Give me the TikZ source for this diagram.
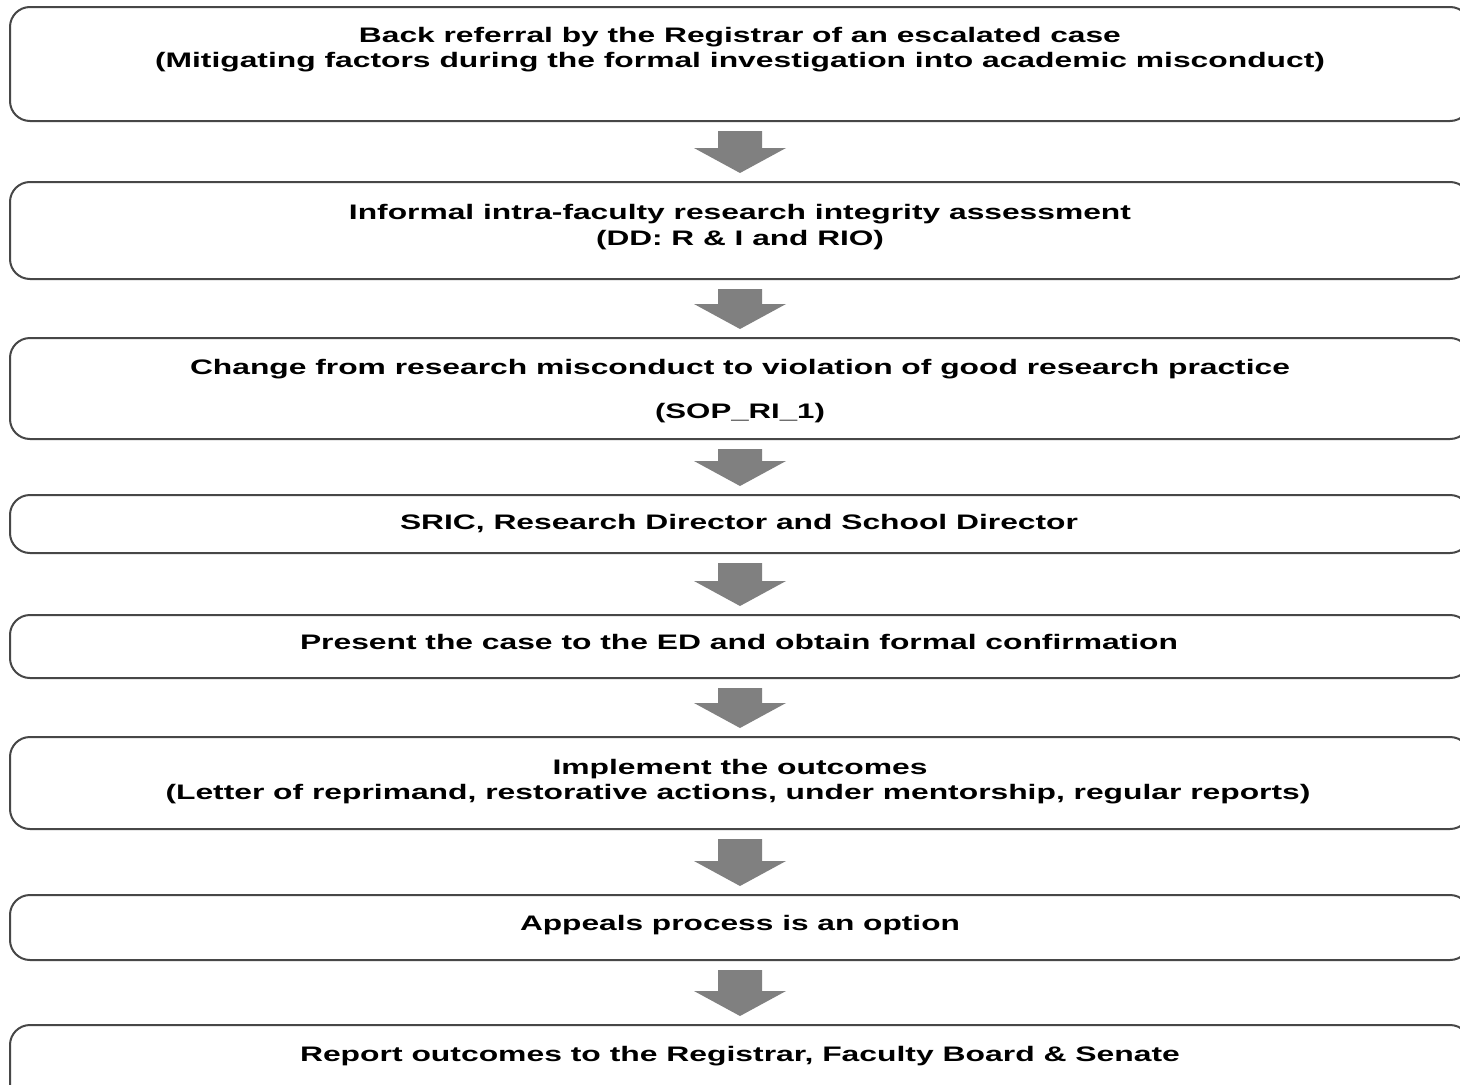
\documentclass[tikz,border=0pt]{standalone}
\usepackage{graphicx}
\usepackage{fontspec}
\setmainfont{Liberation Sans}
\usetikzlibrary{calc}

% set one line of text at a given width (in px units), stretching only horizontally
\newsavebox\linebox
\newcommand\fitline[2]{%
  \sbox\linebox{#2}%
  \pgfmathsetmacro\fitx{#1*0.75/\the\wd\linebox}%
  \scalebox{\fitx}[1]{\usebox\linebox}}

% block arrow from the bottom of one box to the top of the next
\newcommand\flowarrow[2]{%
  \fill[arrowfill] ($(#1.south)+(-22,9)$) -- ($(#1.south)+(22,9)$)
    -- ($(#2.north)+(22,-33)$) -- ($(#2.north)+(46,-33)$)
    -- ($(#2.north)+(0,-8)$)
    -- ($(#2.north)+(-46,-33)$) -- ($(#2.north)+(-22,-33)$) -- cycle;}

\begin{document}
\begin{tikzpicture}[x=0.75pt, y=-0.75pt,
  box/.style={draw=black!72, line width=1.5pt, rounded corners=15pt,
    minimum width=1095pt, inner sep=0pt, fill=white},
  txt/.style={anchor=base, inner sep=0pt, text=black,
    font=\bfseries\fontsize{15.75}{18}\selectfont},
  arrowfill/.style={fill=black!50}]

\fill[white] (0,0) rectangle (1460,1085);
\useasboundingbox (0,0) rectangle (1460,1085);

% process boxes
\node[box, minimum height=85.5pt]  (b1) at (740,64)     {};
\node[box, minimum height=72.75pt] (b2) at (740,230.5)  {};
\node[box, minimum height=75.75pt] (b3) at (740,388.5)  {};
\node[box, minimum height=43.5pt]  (b4) at (740,524)    {};
\node[box, minimum height=47.25pt] (b5) at (740,646.5)  {};
\node[box, minimum height=69pt]    (b6) at (740,783)    {};
\node[box, minimum height=48.75pt] (b7) at (740,927.5)  {};
\node[box, minimum height=63.75pt] (b8) at (740,1067.5) {};

% texts
\node[txt] (t1a) at (740,42)  {\fitline{762}{Back referral by the Registrar of an escalated case}};
\node[txt] (t1b) at (740,67)  {\fitline{1170}{(Mitigating factors during the formal investigation into academic misconduct)}};
\node[txt] (t2a) at (740,219) {\fitline{782}{Informal intra-faculty research integrity assessment}};
\node[txt] (t2b) at (740,245) {\fitline{288}{(DD: R \& I and RIO)}};
\node[txt] (t3a) at (740,374) {\fitline{1100}{Change from research misconduct to violation of good research practice}};
\node[txt] (t3b) at (740,418) {\fitline{170}{(SOP\_RI\_1)}};
\node[txt] (t4)  at (739,529) {\fitline{678}{SRIC, Research Director and School Director}};
\node[txt] (t5)  at (739,649) {\fitline{878}{Present the case to the ED and obtain formal confirmation}};
\node[txt] (t6a) at (740,774) {\fitline{375}{Implement the outcomes}};
\node[txt] (t6b) at (738,799) {\fitline{1145}{(Letter of reprimand, restorative actions, under mentorship, regular reports)}};
\node[txt] (t7)  at (740,930) {\fitline{440}{Appeals process is an option}};
\node[txt] (t8)  at (740,1061) {\fitline{880}{Report outcomes to the Registrar, Faculty Board \& Senate}};

% connecting block arrows
\flowarrow{b1}{b2}
\flowarrow{b2}{b3}
\flowarrow{b3}{b4}
\flowarrow{b4}{b5}
\flowarrow{b5}{b6}
\flowarrow{b6}{b7}
\flowarrow{b7}{b8}
\end{tikzpicture}
\end{document}
